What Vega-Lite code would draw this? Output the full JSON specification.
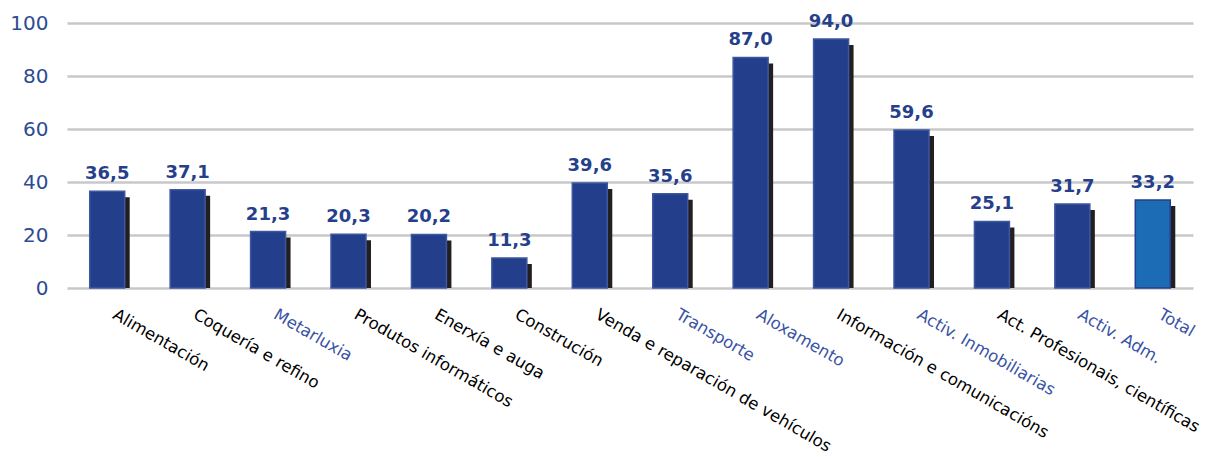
{
  "$schema": "https://vega.github.io/schema/vega-lite/v6.json",
  "width": 1126,
  "height": 265,
  "autosize": {"type": "none"},
  "padding": {"left": 67, "top": 23, "right": 19, "bottom": 169},
  "background": "white",
  "config": {
    "view": {"stroke": null},
    "locale": {"number": {"decimal": ",", "thousands": ".", "grouping": [3], "currency": ["", " €"]}}
  },
  "data": {
    "values": [
      {"sector": "Alimentación", "value": 36.5},
      {"sector": "Coquería e refino", "value": 37.1},
      {"sector": "Metarluxia", "value": 21.3},
      {"sector": "Produtos informáticos", "value": 20.3},
      {"sector": "Enerxía e auga", "value": 20.2},
      {"sector": "Construción", "value": 11.3},
      {"sector": "Venda e reparación de vehículos", "value": 39.6},
      {"sector": "Transporte", "value": 35.6},
      {"sector": "Aloxamento", "value": 87.0},
      {"sector": "Información e comunicacións", "value": 94.0},
      {"sector": "Activ. Inmobiliarias", "value": 59.6},
      {"sector": "Act. Profesionais, científicas", "value": 25.1},
      {"sector": "Activ. Adm.", "value": 31.7},
      {"sector": "Total", "value": 33.2}
    ]
  },
  "encoding": {
    "x": {
      "field": "sector",
      "type": "nominal",
      "sort": null,
      "scale": {"paddingInner": 0.565, "paddingOuter": 0.2825},
      "axis": {
        "title": null,
        "labelAngle": 30,
        "labelAlign": "left",
        "labelBaseline": "top",
        "labelFont": "DejaVu Sans",
        "labelFontSize": 16.5,
        "labelColor": {
          "condition": {
            "test": "indexof(['Metarluxia','Transporte','Aloxamento','Activ. Inmobiliarias','Activ. Adm.','Total'], datum.value) >= 0",
            "value": "#3853a5"
          },
          "value": "#000000"
        },
        "ticks": false,
        "domain": false,
        "grid": false,
        "labelPadding": 18,
        "labelOffset": 11,
        "labelOverlap": false,
        "labelLimit": 400,
        "labelBound": false
      }
    },
    "y": {
      "field": "value",
      "type": "quantitative",
      "stack": null,
      "scale": {"domain": [0, 100]},
      "axis": {
        "title": null,
        "values": [0, 20, 40, 60, 80, 100],
        "grid": true,
        "gridColor": "#c8c8c8",
        "gridWidth": 2.5,
        "domain": false,
        "ticks": false,
        "labelFont": "DejaVu Sans",
        "labelFontSize": 20,
        "labelColor": "#2e4b93",
        "labelPadding": 19
      }
    }
  },
  "layer": [
    {
      "mark": {"type": "bar", "color": "#231f20", "xOffset": 5, "yOffset": 6, "y2Offset": 0.01},
      "encoding": {"y2": {"datum": 0}}
    },
    {
      "mark": {"type": "bar", "strokeWidth": 1.5},
      "encoding": {
        "color": {
          "condition": {"test": "datum.sector === 'Total'", "value": "#1c6cb5"},
          "value": "#233f8b"
        },
        "stroke": {
          "condition": {"test": "datum.sector === 'Total'", "value": "#233f8b"},
          "value": "#3d57a0"
        }
      }
    },
    {
      "mark": {
        "type": "text",
        "font": "DejaVu Sans",
        "fontWeight": "bold",
        "fontSize": 18,
        "color": "#263f8b",
        "baseline": "alphabetic",
        "dy": -12
      },
      "encoding": {
        "text": {"field": "value", "type": "quantitative", "format": ".1f"}
      }
    }
  ]
}
